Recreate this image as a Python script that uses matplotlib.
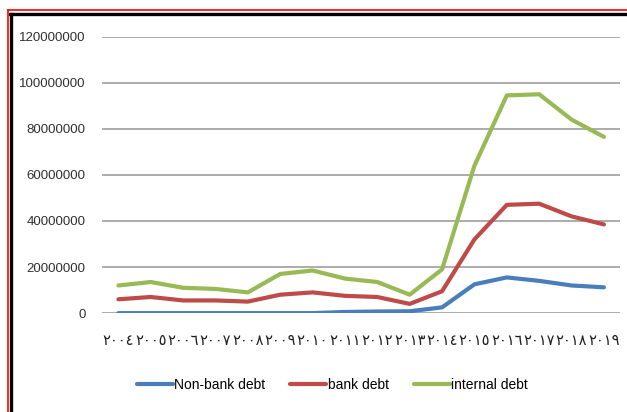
import matplotlib.pyplot as plt
from matplotlib.lines import Line2D
import numpy as np

years = ["٢٠٠٤", "٢٠٠٥", "٢٠٠٦", "٢٠٠٧", "٢٠٠٨", "٢٠٠٩", "٢٠١٠", "٢٠١١",
         "٢٠١٢", "٢٠١٣", "٢٠١٤", "٢٠١٥", "٢٠١٦", "٢٠١٧", "٢٠١٨", "٢٠١٩"]

non_bank_debt = [0, 0, 0, 0, 0, 0, 0, 500000, 700000, 800000, 2500000,
                 12500000, 15500000, 14000000, 12000000, 11200000]
bank_debt = [6000000, 7000000, 5500000, 5500000, 5000000, 8000000, 9000000, 7500000,
             7000000, 4000000, 9500000, 32000000, 47000000, 47500000, 42000000, 38500000]
internal_debt = [12000000, 13500000, 11000000, 10500000, 9000000, 17000000, 18500000, 15000000,
                 13500000, 8000000, 19000000, 64000000, 94500000, 95000000, 84000000, 76500000]

y_ticks = [0, 20000000, 40000000, 60000000, 80000000, 100000000, 120000000]

fig = plt.figure(figsize=(6.27, 4.12), dpi=100)
ax = fig.add_axes([0.163, 0.240, 0.826, 0.671])

x = np.arange(len(years))
ax.plot(x, non_bank_debt, color="#4a7ebb", lw=3, label="Non-bank debt", solid_capstyle="round")
ax.plot(x, bank_debt, color="#be4b48", lw=3, label="bank debt", solid_capstyle="round")
ax.plot(x, internal_debt, color="#98b954", lw=3, label="internal debt", solid_capstyle="round")

ax.set_xlim(-0.5, len(years) - 0.5)
ax.set_ylim(0, 120000000)
ax.set_yticks(y_ticks)
ax.set_yticklabels([str(v) for v in y_ticks], fontfamily="Liberation Sans", fontsize=9.5, color="#303030")
ax.set_xticks(x)
ax.set_xticklabels(years, fontfamily="DejaVu Sans", fontsize=10.5, color="#202020")
ax.tick_params(length=0, axis="both")
ax.tick_params(axis="y", pad=12)
ax.tick_params(axis="x", pad=14)
ax.grid(axis="y", color="#a6a6a6", lw=1.3)
ax.set_axisbelow(True)
for s in ax.spines.values():
    s.set_visible(False)

leg = fig.legend(loc="center", bbox_to_anchor=(0.53, 0.066), ncol=3, frameon=False,
                 prop={"family": "Liberation Sans", "size": 10}, handlelength=2.6,
                 handletextpad=0.1, columnspacing=1.8)

# frame around the chart (cropped)
fig.add_artist(Line2D([8 / 627, 1], [1 - 10 / 412, 1 - 10 / 412], color="red", lw=1.2, transform=fig.transFigure))
fig.add_artist(Line2D([10 / 627, 1], [1 - 14 / 412, 1 - 14 / 412], color="black", lw=2.4, transform=fig.transFigure))
fig.add_artist(Line2D([8 / 627, 8 / 627], [0, 1 - 10 / 412], color="red", lw=1.2, transform=fig.transFigure))
fig.add_artist(Line2D([11 / 627, 11 / 627], [0, 1 - 14 / 412], color="black", lw=2.4, transform=fig.transFigure))

fig.savefig("out.png", dpi=100)
